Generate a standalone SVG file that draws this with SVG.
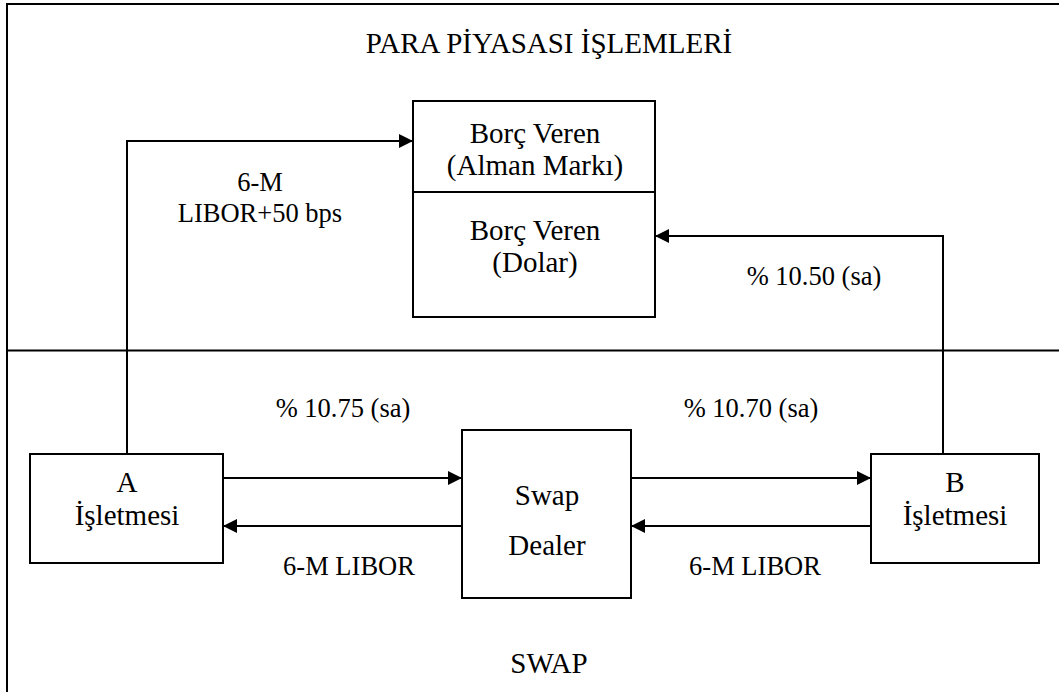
<svg xmlns="http://www.w3.org/2000/svg" width="1059" height="692" viewBox="0 0 1059 692">
<style>
.ln{stroke:#000;stroke-width:2;fill:none}
.bx{stroke:#000;stroke-width:2;fill:#fff}
text{font-family:'Liberation Serif','Times New Roman',Times,serif;fill:#000;text-anchor:middle}
.big{font-size:29px}
.lbl{font-size:26.5px}
</style>
<defs>
<marker id="ah" markerWidth="14" markerHeight="14" refX="14" refY="7" orient="auto" markerUnits="userSpaceOnUse">
<path d="M0,0 L14,7 L0,14 Z" fill="#000"/>
</marker>
</defs>
<rect width="1059" height="692" fill="#fff"/>
<g id="frame">
<path class="ln" d="M7,692 V4 H1059"/>
<path class="ln" d="M7,350.5 H1059"/>
<text class="big" x="549" y="53">PARA PİYASASI İŞLEMLERİ</text>
<text class="big" x="549" y="673">SWAP</text>
</g>
<g id="connectors">
<path class="ln" d="M127,454 V141 H413" marker-end="url(#ah)"/>
<path class="ln" d="M943,454 V236 H655" marker-end="url(#ah)"/>
<path class="ln" d="M223,478 H462" marker-end="url(#ah)"/>
<path class="ln" d="M462,526 H223" marker-end="url(#ah)"/>
<path class="ln" d="M631,478 H871" marker-end="url(#ah)"/>
<path class="ln" d="M871,526 H631" marker-end="url(#ah)"/>
<text class="lbl" x="260" y="191">6-M</text>
<text class="lbl" x="260" y="222">LIBOR+50 bps</text>
<text class="lbl" x="814" y="285">% 10.50 (sa)</text>
<text class="lbl" x="343" y="417">% 10.75 (sa)</text>
<text class="lbl" x="751" y="417">% 10.70 (sa)</text>
<text class="lbl" x="349" y="575">6-M LIBOR</text>
<text class="lbl" x="755" y="575">6-M LIBOR</text>
</g>
<g id="borc-veren">
<rect class="bx" x="413" y="101" width="242" height="216"/>
<path class="ln" d="M413,192 H655"/>
<text class="big" x="535" y="143">Borç Veren</text>
<text class="big" x="535" y="175">(Alman Markı)</text>
<text class="big" x="535" y="240">Borç Veren</text>
<text class="big" x="535" y="272">(Dolar)</text>
</g>
<g id="a-isletmesi">
<rect class="bx" x="30" y="454" width="193" height="109"/>
<text class="big" x="127" y="492">A</text>
<text class="big" x="127" y="525">İşletmesi</text>
</g>
<g id="swap-dealer">
<rect class="bx" x="462" y="430" width="169" height="168"/>
<text class="big" x="547" y="505">Swap</text>
<text class="big" x="547" y="555">Dealer</text>
</g>
<g id="b-isletmesi">
<rect class="bx" x="871" y="454" width="168" height="109"/>
<text class="big" x="955" y="492">B</text>
<text class="big" x="955" y="525">İşletmesi</text>
</g>
</svg>
